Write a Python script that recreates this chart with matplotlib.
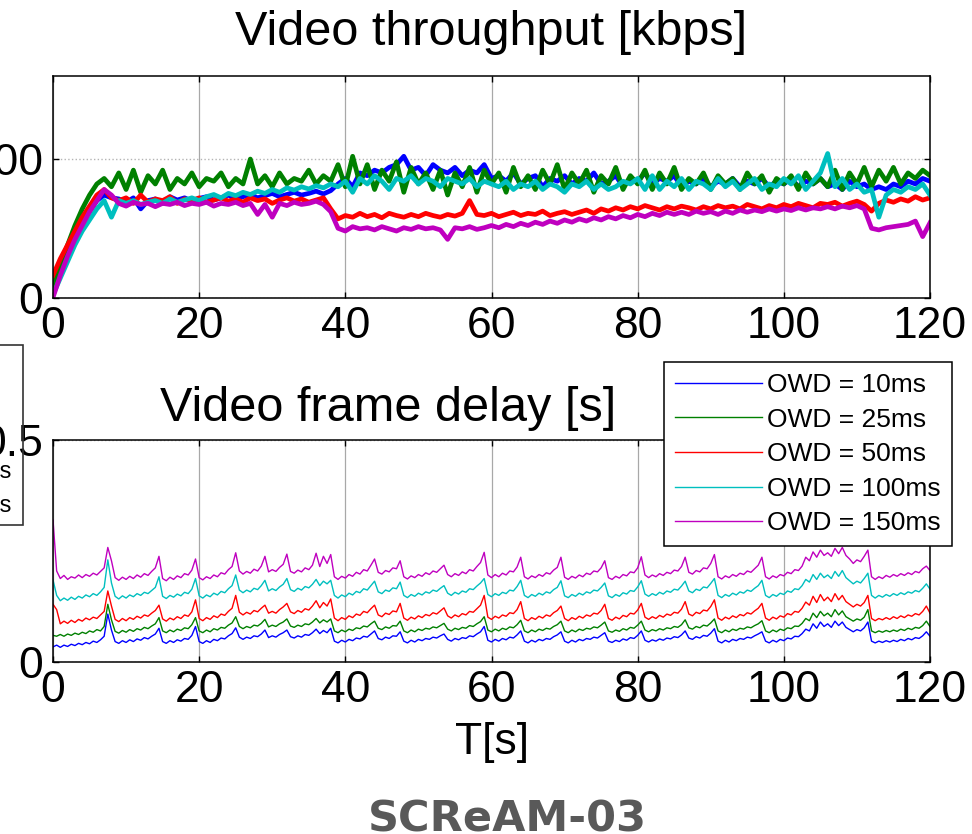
import matplotlib
matplotlib.use('Agg')
import matplotlib.pyplot as plt
from matplotlib.patches import Rectangle

plt.rcParams['font.family'] = ['Liberation Sans', 'DejaVu Sans']

# throughput sampled once per second, frame delay every half second
time_s = list(range(0, 121))
time_half_s = [i / 2 for i in range(0, 241)]

labels = ['OWD = 10ms', 'OWD = 25ms', 'OWD = 50ms', 'OWD = 100ms', 'OWD = 150ms']
colors = ['#0000ff', '#008000', '#ff0000', '#00bfbf', '#bf00bf']

# video throughput [kbps]
thr_10 = [150, 500, 800, 1100, 1350, 1550, 1750, 1850, 1800, 1780, 1720, 1800, 1600, 1750, 1780, 1700,
          1820, 1760, 1800, 1740, 1790, 1820, 1760, 1800, 1850, 1780, 1820, 1860, 1800, 1840, 1880, 1820,
          1860, 1900, 1850, 1880, 1920, 1870, 1930, 2050, 2150, 2000, 2250, 2200, 2300, 2250, 2350, 2400,
          2550, 2300, 2350, 2200, 2400, 2300, 2250, 2350, 2200, 2300, 2250, 2400, 2150, 2200, 2100, 2250,
          2050, 2150, 2200, 2000, 2150, 2100, 2200, 2050, 2150, 2100, 2250, 2050, 2100, 2200, 2000, 2150,
          2100, 2250, 2050, 2150, 2100, 2200, 2000, 2100, 2050, 2150, 2000, 2100, 2050, 2150, 2000, 2100,
          2050, 2150, 2000, 2100, 2050, 2150, 2000, 2100, 2050, 2150, 2000, 2050, 1950, 2100, 2000, 2050,
          1950, 2000, 1950, 2050, 2000, 2100, 2050, 2150, 2100]
thr_25 = [200, 600, 950, 1300, 1600, 1850, 2050, 2150, 2000, 2250, 1950, 2300, 1900, 2200, 2050, 2300,
          1950, 2150, 2050, 2250, 2000, 2150, 2100, 2250, 2000, 2150, 2050, 2500, 2050, 2200, 2000, 2250,
          2050, 2150, 2100, 2300, 2050, 2200, 2100, 2400, 2000, 2550, 2050, 2400, 1950, 2300, 2100, 2450,
          1900, 2350, 2050, 2250, 1950, 2300, 1850, 2250, 2000, 2350, 1900, 2300, 2050, 2250, 1900, 2350,
          2000, 2200, 1950, 2300, 2050, 2400, 1950, 2250, 2050, 2300, 1900, 2200, 2050, 2350, 1950, 2200,
          2050, 2300, 1950, 2250, 2050, 2350, 1950, 2150, 2050, 2250, 1950, 2200, 2050, 2150, 1950, 2250,
          2050, 2200, 1900, 2150, 2050, 2200, 1950, 2250, 2050, 2150, 2000, 2300, 1950, 2250, 2050, 2350,
          2000, 2300, 2100, 2350, 2050, 2250, 2150, 2300, 2200]
thr_50 = [400, 700, 950, 1200, 1450, 1650, 1850, 1950, 1800, 1750, 1800, 1700, 1850, 1720, 1780, 1750,
          1820, 1700, 1780, 1750, 1800, 1720, 1760, 1800, 1740, 1780, 1720, 1800, 1750, 1780, 1700, 1760,
          1800, 1740, 1780, 1720, 1760, 1800, 1600, 1420, 1480, 1450, 1520, 1460, 1500, 1440, 1520, 1480,
          1450, 1500, 1460, 1520, 1480, 1450, 1500, 1470, 1520, 1750, 1500, 1480, 1520, 1460, 1500, 1540,
          1480, 1520, 1500, 1560, 1480, 1520, 1550, 1500, 1540, 1580, 1520, 1600, 1560, 1620, 1580, 1640,
          1600, 1660, 1620, 1580, 1640, 1600, 1650, 1620, 1580, 1640, 1600, 1660, 1620, 1650, 1600, 1680,
          1640, 1600, 1660, 1620, 1680, 1640, 1700, 1660, 1620, 1700, 1680, 1720, 1650, 1700, 1740, 1680,
          1560, 1700, 1760, 1720, 1780, 1740, 1820, 1760, 1800]
thr_100 = [50, 350, 650, 950, 1200, 1400, 1600, 1750, 1450, 1750, 1700, 1750, 1680, 1720, 1750, 1700,
           1780, 1720, 1760, 1800, 1750, 1820, 1860, 1800, 1880, 1840, 1900, 1860, 1920, 1880, 1950, 1900,
           1980, 1940, 2000, 1960, 2020, 1980, 2050, 2000, 2100, 1900, 2150, 2050, 2200, 2100, 1950, 2150,
           2100, 2200, 2050, 2150, 2100, 2000, 2150, 2100, 2050, 2150, 2000, 2100, 2050, 2000, 2100, 1950,
           2050, 2000, 2100, 1950, 2050, 2000, 1900, 2050, 2000, 2100, 1950, 2050, 1950, 2000, 2100, 2050,
           2150, 1950, 2200, 1950, 2100, 2000, 2150, 1950, 2100, 2050, 1950, 2150, 2000, 2100, 1950, 2050,
           2150, 1950, 2050, 2000, 2150, 2050, 2200, 1950, 2100, 2250, 2600, 2000, 2150, 1950, 2050, 1900,
           1950, 1450, 1850, 1950, 1900, 2000, 1950, 2050, 1850]
thr_150 = [0, 400, 750, 1050, 1300, 1550, 1750, 1950, 1850, 1700, 1650, 1720, 1680, 1700, 1640, 1700,
           1680, 1720, 1660, 1700, 1680, 1720, 1650, 1700, 1680, 1720, 1660, 1700, 1500, 1680, 1450, 1700,
           1660, 1720, 1680, 1700, 1740, 1680, 1550, 1250, 1200, 1280, 1240, 1260, 1220, 1280, 1240, 1200,
           1260, 1230, 1280, 1240, 1260, 1220, 1050, 1260, 1240, 1280, 1230, 1260, 1300, 1260, 1320, 1280,
           1340, 1300, 1360, 1320, 1380, 1340, 1400, 1360, 1420, 1380, 1440, 1400, 1460, 1420, 1480, 1440,
           1500, 1460, 1520, 1480, 1540, 1500, 1540, 1500, 1560, 1520, 1550, 1500, 1560, 1520, 1580, 1540,
           1580, 1550, 1600, 1560, 1600, 1570, 1620, 1580, 1620, 1600, 1640, 1600, 1650, 1620, 1660, 1600,
           1250, 1220, 1260, 1280, 1300, 1320, 1380, 1100, 1350]

# video frame delay [ms]
dly_10 = [34, 38, 33, 38, 35, 40, 37, 42, 39, 44, 41, 47, 44, 50, 58, 108,
          72, 46, 42, 48, 44, 50, 46, 52, 49, 55, 52, 58, 63, 76,
          46, 42, 48, 44, 50, 47, 53, 51, 60, 80,
          46, 42, 48, 44, 51, 48, 54, 52, 59, 64, 77,
          56, 51, 56, 53, 59, 57, 63, 72,
          55, 59, 56, 62, 66, 72,
          57, 54, 59, 56, 62, 60, 66, 74, 64, 71, 66, 76,
          47, 43, 49, 45, 51, 48, 54, 52, 58, 56, 63, 70,
          53, 50, 56, 53, 59, 58, 68,
          47, 43, 49, 45, 51, 48, 53, 51, 56, 54, 59, 63,
          51, 47, 53, 50, 55, 53, 59, 57, 63, 68, 80,
          49, 45, 51, 47, 53, 50, 56, 54, 61, 70,
          47, 43, 49, 45, 51, 48, 53, 51, 57, 61, 68,
          47, 43, 49, 45, 51, 48, 53, 51, 56, 54, 60, 66,
          47, 44, 49, 46, 52, 49, 55, 53, 60, 70,
          49, 45, 50, 47, 52, 49, 54, 52, 57, 55, 61, 70,
          54, 51, 57, 54, 60, 58, 65, 75,
          47, 43, 49, 45, 51, 48, 53, 51, 56, 54, 59, 63, 68,
          47, 43, 49, 45, 51, 48, 54, 52, 58, 57, 64, 74, 70, 86, 76, 90, 80, 86, 78, 92, 82, 90, 78, 73,
          68, 73, 70, 77, 90,
          47, 43, 47, 44, 48, 45, 49, 46, 51, 48, 53, 50, 55, 53, 59, 68, 58]
dly_25 = [60, 58, 62, 58, 63, 60, 65, 62, 67, 64, 70, 67, 73, 70, 80, 130,
          95, 69, 65, 71, 67, 73, 69, 75, 72, 78, 75, 81, 86, 100,
          70, 66, 72, 68, 74, 71, 77, 75, 84, 100,
          70, 66, 72, 68, 75, 72, 78, 76, 83, 88, 102,
          80, 75, 80, 77, 83, 81, 87, 96,
          79, 83, 80, 86, 90, 97,
          81, 78, 83, 80, 86, 84, 90, 98, 88, 95, 90, 97,
          70, 66, 72, 68, 74, 71, 77, 75, 81, 79, 86, 92,
          76, 73, 79, 76, 82, 81, 92,
          70, 66, 72, 68, 74, 71, 76, 74, 79, 77, 82, 87,
          74, 70, 76, 73, 78, 76, 82, 80, 86, 91, 102,
          72, 68, 74, 70, 76, 73, 79, 77, 84, 94,
          70, 66, 72, 68, 74, 71, 76, 74, 80, 84, 92,
          70, 66, 72, 68, 74, 71, 76, 74, 79, 77, 83, 90,
          70, 67, 72, 69, 75, 72, 78, 76, 83, 92,
          72, 68, 73, 70, 75, 72, 77, 75, 80, 78, 84, 95,
          77, 74, 80, 77, 83, 81, 88, 97,
          70, 66, 72, 68, 74, 71, 76, 74, 79, 77, 82, 86, 93,
          70, 66, 72, 68, 74, 71, 77, 75, 81, 80, 87, 98, 93, 110, 100, 114, 104, 110, 102, 118, 106, 115,
          102, 97, 92, 97, 94, 101, 118,
          70, 66, 70, 67, 71, 68, 72, 69, 74, 71, 76, 73, 78, 76, 82, 92, 80]
dly_50 = [130, 118, 86, 92, 87, 94, 89, 96, 92, 99, 95, 101, 98, 106, 114, 160,
          126, 96, 91, 98, 93, 100, 96, 103, 99, 106, 103, 110, 116, 128,
          97, 92, 99, 95, 102, 98, 106, 103, 113, 140,
          98, 93, 100, 96, 104, 100, 108, 105, 114, 121, 150,
          112, 106, 112, 108, 116, 113, 121, 128,
          110, 114, 110, 118, 124, 132,
          113, 109, 116, 112, 120, 117, 126, 138, 122, 134, 126, 142,
          99, 93, 100, 96, 104, 100, 108, 105, 114, 111, 120, 128,
          106, 102, 110, 107, 115, 113, 132,
          99, 94, 101, 97, 104, 100, 107, 104, 111, 108, 115, 122,
          104, 99, 106, 102, 109, 106, 114, 112, 120, 128, 150,
          101, 96, 103, 99, 106, 103, 111, 109, 118, 136,
          98, 93, 100, 96, 103, 99, 106, 103, 111, 116, 126,
          98, 93, 100, 96, 103, 99, 106, 103, 110, 108, 116, 130,
          98, 94, 101, 97, 105, 102, 110, 108, 117, 132,
          101, 96, 102, 98, 105, 101, 108, 105, 112, 110, 119, 136,
          108, 104, 112, 109, 117, 115, 125, 140,
          99, 94, 101, 97, 104, 100, 107, 104, 111, 108, 115, 121, 132,
          99, 94, 101, 97, 104, 101, 109, 106, 114, 112, 121, 135, 128, 148, 134, 152, 138, 146, 136, 154,
          140, 150, 136, 130, 124, 130, 126, 134, 150,
          98, 93, 98, 95, 100, 96, 102, 98, 104, 100, 106, 103, 109, 106, 114, 126, 110]
dly_100 = [185, 150, 138, 144, 139, 146, 141, 148, 144, 151, 147, 154, 150, 158, 168, 230,
           178, 148, 142, 149, 144, 151, 147, 154, 150, 157, 154, 161, 168, 192,
           148, 143, 150, 146, 153, 149, 157, 154, 164, 188,
           149, 144, 151, 147, 155, 151, 159, 156, 165, 172, 196,
           162, 156, 162, 158, 166, 163, 172, 184,
           160, 165, 161, 169, 175, 188,
           163, 159, 166, 162, 170, 167, 175, 186, 172, 182, 176, 184,
           150, 144, 151, 147, 155, 151, 159, 156, 165, 162, 172, 182,
           158, 154, 162, 159, 167, 165, 180,
           150, 145, 152, 148, 155, 151, 158, 155, 162, 159, 166, 172,
           155, 150, 157, 153, 160, 157, 165, 163, 171, 178, 188,
           152, 147, 154, 150, 157, 154, 162, 160, 170, 184,
           150, 145, 152, 148, 155, 151, 158, 155, 163, 168, 183,
           149, 145, 152, 148, 155, 151, 158, 155, 162, 160, 168, 178,
           149, 145, 152, 148, 156, 153, 161, 159, 169, 183,
           153, 148, 154, 150, 157, 153, 160, 157, 164, 162, 171, 182,
           160, 156, 164, 161, 169, 167, 177, 188,
           150, 145, 152, 148, 155, 151, 158, 155, 162, 159, 166, 172, 184,
           150, 145, 152, 148, 155, 152, 160, 157, 165, 163, 172, 186, 180, 197, 186, 200, 190, 196, 188, 204,
           193, 206, 190, 183, 176, 182, 178, 188, 200,
           150, 144, 150, 146, 152, 148, 154, 150, 156, 152, 158, 155, 161, 158, 166, 176, 164]
dly_150 = [320, 205, 188, 195, 186, 192, 189, 196, 190, 197, 193, 200, 196, 204, 212, 258,
           228, 190, 184, 191, 186, 193, 188, 196, 191, 199, 195, 204, 212, 238,
           188, 183, 191, 186, 194, 190, 199, 196, 207, 232,
           190, 185, 192, 188, 196, 192, 201, 198, 208, 215, 246,
           205, 198, 204, 200, 209, 205, 216, 238,
           203, 208, 204, 213, 220, 243,
           204, 200, 207, 203, 212, 208, 218, 245, 215, 238, 222, 242,
           192, 186, 193, 189, 197, 193, 202, 198, 208, 205, 218, 232,
           202, 198, 206, 203, 212, 210, 228,
           192, 187, 194, 190, 197, 193, 201, 197, 205, 202, 210, 218,
           197, 192, 199, 195, 203, 199, 208, 205, 215, 224, 247,
           196, 190, 197, 192, 200, 196, 205, 203, 214, 236,
           192, 187, 194, 190, 197, 193, 201, 198, 207, 213, 236,
           191, 186, 193, 189, 196, 192, 200, 197, 205, 203, 212, 228,
           190, 186, 193, 189, 197, 194, 203, 201, 212, 237,
           196, 190, 196, 192, 199, 195, 202, 199, 207, 205, 215, 236,
           202, 198, 206, 203, 212, 210, 222, 242,
           192, 187, 194, 190, 197, 193, 200, 197, 205, 202, 210, 218, 236,
           192, 187, 194, 190, 197, 194, 202, 199, 208, 206, 216, 236, 228, 248, 236, 252, 240, 246, 238, 256,
           244, 258, 240, 232, 222, 230, 226, 238, 252,
           192, 186, 192, 188, 195, 191, 197, 193, 199, 195, 201, 197, 204, 201, 210, 216, 206]

throughput = [thr_10, thr_25, thr_50, thr_100, thr_150]
delay_ms = [dly_10, dly_25, dly_50, dly_100, dly_150]

W, H = 972, 834
fig = plt.figure(figsize=(W / 100, H / 100), dpi=100)

def px_axes(left, top, right, bottom):
    return fig.add_axes([left / W, 1 - bottom / H, (right - left) / W, (bottom - top) / H])

ax1 = px_axes(53, 76, 930, 297.5)
ax2 = px_axes(53, 440, 930, 662)

for ax in (ax1, ax2):
    ax.set_xlim(0, 120)
    ax.set_xticks([0, 20, 40, 60, 80, 100, 120])
    ax.tick_params(direction='in', length=4, width=1, labelsize=32, top=True, right=True, color='black')
    ax.tick_params(axis='x', pad=6)
    ax.tick_params(axis='y', pad=7)
    ax.grid(axis='x', color='#a8a8a8', linestyle='-', linewidth=0.9)
    ax.grid(axis='y', color='#b4b4b4', linestyle=':', linewidth=1.0)
    ax.set_axisbelow(True)
    for s in ax.spines.values():
        s.set_linewidth(1.1)
        s.set_color('black')

for vals, c, lab in zip(throughput, colors, labels):
    ax1.plot(time_s, vals, color=c, lw=3.4, label=lab, solid_joinstyle='round')
ax1.set_ylim(0, 4000)
ax1.set_yticks([0, 2500])
ax1.set_title('Video throughput [kbps]', fontsize=35, pad=22)

for vals, c, lab in zip(delay_ms, colors, labels):
    ax2.plot(time_half_s, [v / 1000 for v in vals], color=c, lw=1.0, label=lab)
ax2.set_ylim(0, 0.5)
ax2.set_yticks([0, 0.5])
ax2.set_yticklabels(['0', '0.5'])
ax2.set_title('Video frame delay [s]', fontsize=35, pad=14, x=0.382)
ax2.set_xlabel('T[s]', fontsize=32, labelpad=8)

leg = ax2.legend(loc='upper right', bbox_to_anchor=(952 / W, 1 - 362 / H), bbox_transform=fig.transFigure,
                 fontsize=19, frameon=True, fancybox=False, edgecolor='black', framealpha=1,
                 handlelength=3.3, handletextpad=0.2, labelspacing=0.4, borderpad=0.42, borderaxespad=0)
leg.get_frame().set_linewidth(1.1)

# legend of the neighbouring panel, mostly outside the canvas
fig.add_artist(Rectangle((-0.3, 1 - 525 / H), 0.3 + 23 / W, 180 / H, transform=fig.transFigure,
                         fill=False, edgecolor='#333333', linewidth=1.2))
fig.text(11 / W, 1 - 472 / H, 'OWD = 100ms', fontsize=17, ha='right', va='center')
fig.text(11 / W, 1 - 506 / H, 'OWD = 150ms', fontsize=17, ha='right', va='center')

fig.text(507 / W, 1 - 820 / H, 'SCReAM-03', fontsize=31, fontweight='bold', color='#595959',
         family='DejaVu Sans', ha='center', va='center')

fig.savefig('out.png', dpi=100)
